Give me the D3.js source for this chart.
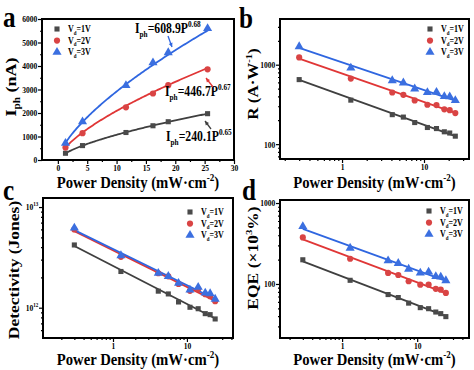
<!DOCTYPE html>
<html>
<meta charset="utf-8" />
<style>
  body { margin: 0; background: #fff; }
  text { font-family: "Liberation Serif", "Times New Roman", serif; font-weight: bold; fill: #000; }
</style>
<body>
<script src="https://d3js.org/d3.v7.min.js"></script>
<script>
  // ---- values ----
  let biasLabels = ["=1V", "=2V", "=3V"];
  let colors = ["#3f3f3f", "#e03636", "#2f66e0"];
  let markerColors = ["#4a4a4a", "#d94444", "#3b6fe0"];

  // panel a : photocurrent vs power density (linear)
  let powerA = [1.3, 4.2, 11.6, 16.2, 18.8, 25.5];
  let iph1 = [287, 613, 1170, 1457, 1629, 1971];
  let iph2 = [527, 1143, 2243, 2829, 3186, 3857];
  let iph3 = [714, 1629, 3171, 4143, 4571, 5600];
  let fitCoef = [240.1, 446.7, 608.9];
  let fitExp = [0.65, 0.67, 0.68];
  let fitLabels = ["240.1P", "446.7P", "608.9P"];
  let fitExpLabels = ["0.65", "0.67", "0.68"];

  // panels b-d : log-log
  let powerLog = [0.3, 1.28, 4.1, 5.6, 7.7, 11.0, 14.2, 17.7, 20.6, 24.1];
  let resp1 = [649, 358, 235, 219, 187, 162, 157, 143, 138, 126];
  let resp2 = [1234, 668, 447, 418, 355, 313, 310, 274, 268, 246];
  let resp3 = [1693, 910, 631, 591, 497, 447, 451, 398, 395, 355];
  let respFit = [[645, 126], [1190, 247], [1625, 354]];

  let det1 = [4.2e12, 2.29e12, 1.46e12, 1.37e12, 1.14e12, 1.01e12, 0.977e12, 0.873e12, 0.853e12, 0.773e12];
  let det2 = [6.0e12, 3.2e12, 2.2e12, 2.05e12, 1.72e12, 1.47e12, 1.53e12, 1.36e12, 1.3e12, 1.16e12];
  let det3 = [6.2e12, 3.3e12, 2.2e12, 2.05e12, 1.75e12, 1.5e12, 1.6e12, 1.4e12, 1.38e12, 1.22e12];
  let detFit = [[4.1e12, 0.78e12], [5.75e12, 1.17e12], [5.9e12, 1.22e12]];

  let eqe1 = [199, 111, 74, 68, 58, 51, 49.5, 45, 43, 39.5];
  let eqe2 = [376, 205, 137, 129, 108, 98, 98, 87, 85, 77.5];
  let eqe3 = [514, 278, 194, 180, 153, 137, 141, 124, 122, 110];
  let eqeFit = [[190, 40], [355, 77], [480, 109]];

  // ticks
  let ticksAx = [0, 5, 10, 15, 20, 25, 30];
  let ticksAxMinor = [2.5, 7.5, 12.5, 17.5, 22.5, 27.5];
  let ticksAy = [0, 1000, 2000, 3000, 4000, 5000, 6000];
  let ticksAyMinor = [500, 1500, 2500, 3500, 4500, 5500];
  let ticksLogX = [1, 10];
  let ticksLogXMinor = [0.2, 0.3, 0.4, 0.5, 0.6, 0.7, 0.8, 0.9, 2, 3, 4, 5, 6, 7, 8, 9, 20, 30, 40];
  let ticksBy = [100, 1000];
  let ticksByMinor = [70, 80, 90, 200, 300, 400, 500, 600, 700, 800, 900, 2000, 3000];
  let ticksCy = [1e12, 1e13];
  let ticksCyMinor = [6e11, 7e11, 8e11, 9e11, 2e12, 3e12, 4e12, 5e12, 6e12, 7e12, 8e12, 9e12];
  let ticksDy = [100, 1000];
  let ticksDyMinor = [30, 40, 50, 60, 70, 80, 90, 200, 300, 400, 500, 600, 700, 800, 900];

  let width = 474,
    height = 370;
  let sx = 0.84; // the figure's glyphs are a little squeezed sideways

  let svg = d3.select("body").append("svg").attr("width", width).attr("height", height);
  svg.append("rect").attr("width", width).attr("height", height).attr("fill", "#fff");

  let symbols = [d3.symbolSquare, d3.symbolCircle, d3.symbolTriangle];
  let symbolSizes = [26, 30, 36];

  function richText(g, x, y, parts, fs, rotate, anchor) {
    let t = g
      .append("text")
      .attr("transform", `translate(${x},${y}) scale(${sx},1)` + (rotate ? " rotate(-90)" : ""))
      .attr("font-size", fs)
      .attr("text-anchor", anchor || "start");
    let shift = 0;
    parts.forEach((p) => {
      let s = typeof p === "string" ? p : p[0];
      let k = typeof p === "string" ? null : p[1];
      let target = k === "sub" ? 0.28 * fs : k === "sup" ? -0.42 * fs : 0;
      let ts = t.append("tspan").text(s);
      if (target - shift !== 0) ts.attr("dy", target - shift);
      if (k) ts.attr("font-size", fs * 0.62);
      shift = target;
    });
    return t;
  }

  function drawAxes(g, box, x, y, o) {
    let parts = [
      [d3.axisBottom(x).tickValues(o.xMaj).tickSize(4).tickFormat(o.xFmt), "b", true],
      [d3.axisBottom(x).tickValues(o.xMin).tickSize(2).tickFormat(""), "b", false],
      [d3.axisLeft(y).tickValues(o.yMaj).tickSize(4).tickFormat(o.yFmt), "l", true],
      [d3.axisLeft(y).tickValues(o.yMin).tickSize(2).tickFormat(""), "l", false],
    ];
    parts.forEach(([ax, side, major]) => {
      let a = g
        .append("g")
        .attr("transform", side === "b" ? `translate(0,${box.y1})` : `translate(${box.x0},0)`)
        .call(ax.tickSizeOuter(0).tickPadding(side === "b" ? 0.5 : 1.5));
      a.select(".domain").remove();
      a.selectAll("line").attr("stroke", "#000").attr("stroke-width", 1.2);
      if (!major) {
        a.selectAll("text").remove();
        return;
      }
      a.selectAll("text").attr("font-size", 9).attr("transform", `scale(${sx},1)`);
      if (side === "l" && o.yPow) {
        a.selectAll("text").each(function (d) {
          let t = d3.select(this).text("");
          t.append("tspan").text("10");
          t.append("tspan").attr("dy", -4).attr("font-size", 6).text(Math.round(Math.log10(d)));
        });
      }
    });
  }

  function frame(g, box) {
    g.append("rect")
      .attr("x", box.x0)
      .attr("y", box.y0)
      .attr("width", box.x1 - box.x0)
      .attr("height", box.y1 - box.y0)
      .attr("fill", "none")
      .attr("stroke", "#000")
      .attr("stroke-width", 2);
  }

  function drawMarkers(g, xs, ys, x, y, i) {
    g.selectAll(null)
      .data(xs.map((v, j) => [v, ys[j]]))
      .join("path")
      .attr("d", d3.symbol().type(symbols[i]).size(symbolSizes[i]))
      .attr("transform", (d) => `translate(${x(d[0])},${y(d[1])})`)
      .attr("fill", markerColors[i]);
  }

  function legend(g, lx, ly) {
    biasLabels.forEach((lab, i) => {
      g.append("path")
        .attr("d", d3.symbol().type(symbols[i]).size(symbolSizes[i]))
        .attr("transform", `translate(${lx},${ly + i * 11.6})`)
        .attr("fill", markerColors[i]);
      richText(g, lx + 11, ly + i * 11.6 + 3, ["V", ["d", "sub"], lab], 9.5);
    });
  }

  function xTitle(g, box, baseline) {
    richText(
      g,
      (box.x0 + box.x1) / 2,
      baseline,
      ["Power Density (mW\u00b7cm", ["-2", "sup"], ")"],
      17.5,
      false,
      "middle"
    );
  }

  function panelLetter(g, ch, x, y) {
    g.append("text").attr("transform", `translate(${x},${y}) scale(${sx},1)`).attr("font-size", 30).text(ch);
  }

  // ---------------- panel a ----------------
  {
    let box = { x0: 42, x1: 234, y0: 19, y1: 160 };
    let g = svg.append("g");
    let x = d3.scaleLinear().domain([-2.7, 30]).range([box.x0, box.x1]);
    let y = d3.scaleLinear().domain([0, 6000]).range([box.y1, box.y0]);
    drawAxes(g, box, x, y, {
      xMaj: ticksAx, xMin: ticksAxMinor, yMaj: ticksAy, yMin: ticksAyMinor,
      xFmt: d3.format("d"), yFmt: d3.format("d"),
    });
    let series = [iph1, iph2, iph3];
    let pCurve = d3.range(powerA[0] - 0.1, powerA[powerA.length - 1] + 0.2, 0.2);
    series.forEach((ys, i) => {
      g.append("path")
        .datum(pCurve)
        .attr("fill", "none")
        .attr("stroke", colors[i])
        .attr("stroke-width", 1.8)
        .attr("d", d3.line().x((p) => x(p)).y((p) => y(fitCoef[i] * Math.pow(p, fitExp[i]))));
    });
    series.forEach((ys, i) => drawMarkers(g, powerA, ys, x, y, i));
    frame(g, box);
    legend(g, 57, 29);

    // fit equations with short arrows
    let eqPos = [[166, 141], [165, 96], [135, 33]];
    let arrows = [[[211, 129], [205, 121]], [[213, 87], [206, 78]], [[168, 36], [172, 47]]];
    [0, 1, 2].forEach((i) => {
      richText(g, eqPos[i][0], eqPos[i][1], ["I", ["ph", "sub"], "=" + fitLabels[i], ["" + fitExpLabels[i], "sup"]], 14);
      let [a, b] = arrows[i];
      g.append("line")
        .attr("x1", a[0]).attr("y1", a[1]).attr("x2", b[0]).attr("y2", b[1])
        .attr("stroke", colors[i]).attr("stroke-width", 1.3);
      let ang = Math.atan2(b[1] - a[1], b[0] - a[0]);
      let hl = 4, hw = 2;
      let p1 = [b[0] - hl * Math.cos(ang) + hw * Math.sin(ang), b[1] - hl * Math.sin(ang) - hw * Math.cos(ang)];
      let p2 = [b[0] - hl * Math.cos(ang) - hw * Math.sin(ang), b[1] - hl * Math.sin(ang) + hw * Math.cos(ang)];
      g.append("path").attr("d", `M${b[0]},${b[1]}L${p1[0]},${p1[1]}L${p2[0]},${p2[1]}Z`).attr("fill", colors[i]);
    });

    richText(g, 16, 87, ["I", ["ph", "sub"], " (nA)"], 18, true, "middle");
    xTitle(g, box, 188);
    panelLetter(g, "a", 3, 27);
  }

  // ---------------- log panels ----------------
  function logPanel(box, xDom, yDom, ys, fits, yMaj, yMin, yFmt, yPow, legendAt) {
    let g = svg.append("g");
    let x = d3.scaleLog().domain(xDom).range([box.x0, box.x1]);
    let y = d3.scaleLog().domain(yDom).range([box.y1, box.y0]);
    drawAxes(g, box, x, y, {
      xMaj: ticksLogX, xMin: ticksLogXMinor.filter((v) => v > xDom[0] && v < xDom[1]),
      yMaj: yMaj, yMin: yMin.filter((v) => v > yDom[0] && v < yDom[1]),
      xFmt: d3.format("d"), yFmt: yFmt, yPow: yPow,
    });
    let last = powerLog.length - 1;
    fits.forEach((f, i) => {
      g.append("line")
        .attr("x1", x(powerLog[0])).attr("y1", y(f[0]))
        .attr("x2", x(powerLog[last])).attr("y2", y(f[1]))
        .attr("stroke", colors[i]).attr("stroke-width", 1.8);
    });
    ys.forEach((s, i) => drawMarkers(g, powerLog, s, x, y, i));
    frame(g, box);
    legend(g, legendAt[0], legendAt[1]);
    return g;
  }

  {
    let box = { x0: 280, x1: 469, y0: 19, y1: 159 };
    let g = logPanel(box, [0.175, 35.4], [65, 3760], [resp1, resp2, resp3], respFit,
      ticksBy, ticksByMinor, d3.format("d"), false, [430, 29]);
    richText(g, 258, 84, ["R (A\u00b7W", ["-1", "sup"], ")"], 17, true, "middle");
    xTitle(g, box, 188);
    panelLetter(g, "b", 239, 28);
  }
  {
    let box = { x0: 43, x1: 233, y0: 198, y1: 338 };
    let g = logPanel(box, [0.113, 42], [5.0e11, 1.23e13], [det1, det2, det3], detFit,
      ticksCy, ticksCyMinor, (d) => "" + d, true, [190, 212]);
    richText(g, 19, 270, ["Detectivity (Jones)"], 17.5, true, "middle");
    xTitle(g, box, 365);
    panelLetter(g, "c", 3, 200);
  }
  {
    let box = { x0: 280, x1: 469, y0: 200, y1: 338 };
    let g = logPanel(box, [0.149, 49], [21.5, 1090], [eqe1, eqe2, eqe3], eqeFit,
      ticksDy, ticksDyMinor, d3.format("d"), false, [429, 211]);
    richText(g, 258, 258, ["EQE (\u00d710", ["3", "sup"], "%)"], 17.5, true, "middle");
    xTitle(g, box, 365);
    panelLetter(g, "d", 242, 200);
  }
</script>
</body>
</html>
